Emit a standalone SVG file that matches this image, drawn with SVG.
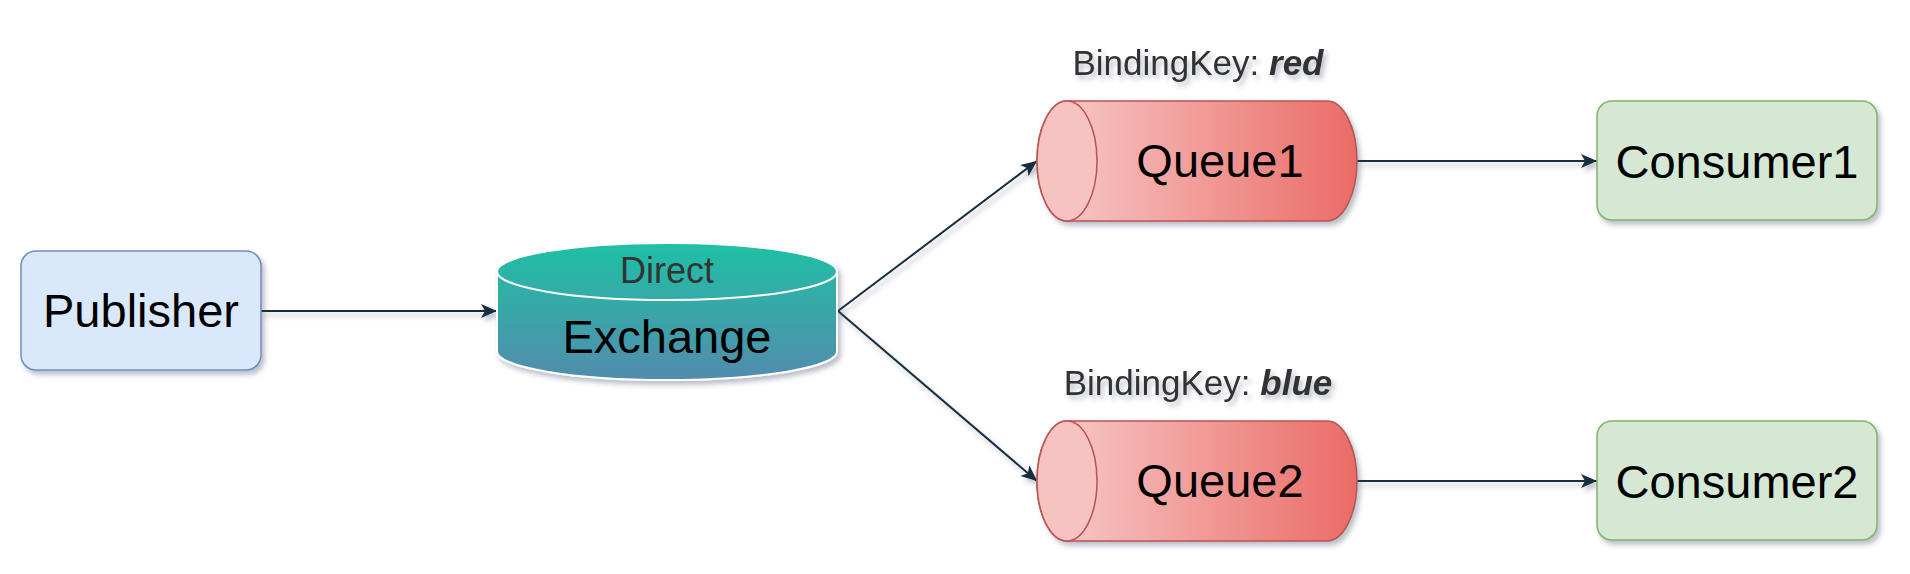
<svg xmlns="http://www.w3.org/2000/svg" width="1910" height="574" viewBox="0 0 1910 574">
<style>
.lbl{font-family:"Comic Sans MS","Liberation Sans",sans-serif;fill:#000;text-anchor:middle}
.big{font-size:47px}
.key{font-family:"Comic Sans MS","Liberation Sans",sans-serif;font-size:35px;fill:#333333;text-anchor:middle}
.edge{fill:none;stroke:#182e3e;stroke-width:2;marker-end:url(#arr)}
</style>
<defs>
<filter id="sh" x="-20%" y="-20%" width="150%" height="160%">
<feDropShadow dx="3" dy="4" stdDeviation="2.5" flood-color="#3a4a6a" flood-opacity="0.35"/>
</filter>
<linearGradient id="gEx" x1="0" y1="0" x2="0" y2="1">
<stop offset="0" stop-color="#1fc0a4"/>
<stop offset="1" stop-color="#528cad"/>
</linearGradient>
<linearGradient id="gQ" x1="0" y1="0" x2="1" y2="0">
<stop offset="0" stop-color="#f8cecc"/>
<stop offset="1" stop-color="#ea6b66"/>
</linearGradient>
<marker id="arr" markerUnits="userSpaceOnUse" markerWidth="18" markerHeight="16" refX="16" refY="7" orient="auto">
<path d="M0,0 L16,7 L0,14 L4,7 Z" fill="#182e3e"/>
</marker>
</defs>
<g id="connectors" filter="url(#sh)">
<line class="edge" x1="261" y1="311" x2="497" y2="311"/>
<line class="edge" x1="838" y1="311" x2="1037" y2="161"/>
<line class="edge" x1="838" y1="311" x2="1037" y2="481"/>
<line class="edge" x1="1357" y1="161" x2="1597" y2="161"/>
<line class="edge" x1="1357" y1="481" x2="1597" y2="481"/>
</g>
<g id="publisher">
<rect x="21" y="251" width="240" height="119" rx="15" fill="#dae8fc" stroke="#6c8ebf" stroke-width="1.5" filter="url(#sh)"/>
<text class="lbl big" x="141" y="327">Publisher</text>
</g>
<g id="exchange">
<g filter="url(#sh)">
<path d="M497,271.5 A170,28.5 0 0 1 837,271.5 L837,351.5 A170,28.5 0 0 1 497,351.5 Z" fill="url(#gEx)" stroke="#ffffff" stroke-width="2"/>
</g>
<path d="M497,271.5 A170,28.5 0 0 0 837,271.5" fill="none" stroke="#ffffff" stroke-width="2"/>
<text class="lbl" x="667" y="283" font-size="36" style="fill:#333333">Direct</text>
<text class="lbl big" x="667" y="353">Exchange</text>
</g>
<g id="queue1">
<text class="key" x="1198" y="75" filter="url(#sh)">BindingKey: <tspan font-weight="bold" font-style="italic">red</tspan></text>
<path d="M1067,101 L1327,101 A30,60 0 0 1 1327,221 L1067,221 A30,60 0 0 1 1067,101 Z" fill="url(#gQ)" stroke="#b85450" stroke-width="1.5" filter="url(#sh)"/>
<ellipse cx="1067" cy="161" rx="30" ry="60" fill="#f6c3c1" stroke="#b85450" stroke-width="1.5"/>
<text class="lbl big" x="1220" y="177">Queue1</text>
</g>
<g id="queue2">
<text class="key" x="1198" y="395" filter="url(#sh)">BindingKey: <tspan font-weight="bold" font-style="italic">blue</tspan></text>
<path d="M1067,421 L1327,421 A30,60 0 0 1 1327,541 L1067,541 A30,60 0 0 1 1067,421 Z" fill="url(#gQ)" stroke="#b85450" stroke-width="1.5" filter="url(#sh)"/>
<ellipse cx="1067" cy="481" rx="30" ry="60" fill="#f6c3c1" stroke="#b85450" stroke-width="1.5"/>
<text class="lbl big" x="1220" y="497">Queue2</text>
</g>
<g id="consumer1">
<rect x="1597" y="101" width="280" height="119" rx="15" fill="#d5e8d4" stroke="#82b366" stroke-width="1.5" filter="url(#sh)"/>
<text class="lbl big" x="1737" y="178">Consumer1</text>
</g>
<g id="consumer2">
<rect x="1597" y="421" width="280" height="119" rx="15" fill="#d5e8d4" stroke="#82b366" stroke-width="1.5" filter="url(#sh)"/>
<text class="lbl big" x="1737" y="498">Consumer2</text>
</g>
</svg>
